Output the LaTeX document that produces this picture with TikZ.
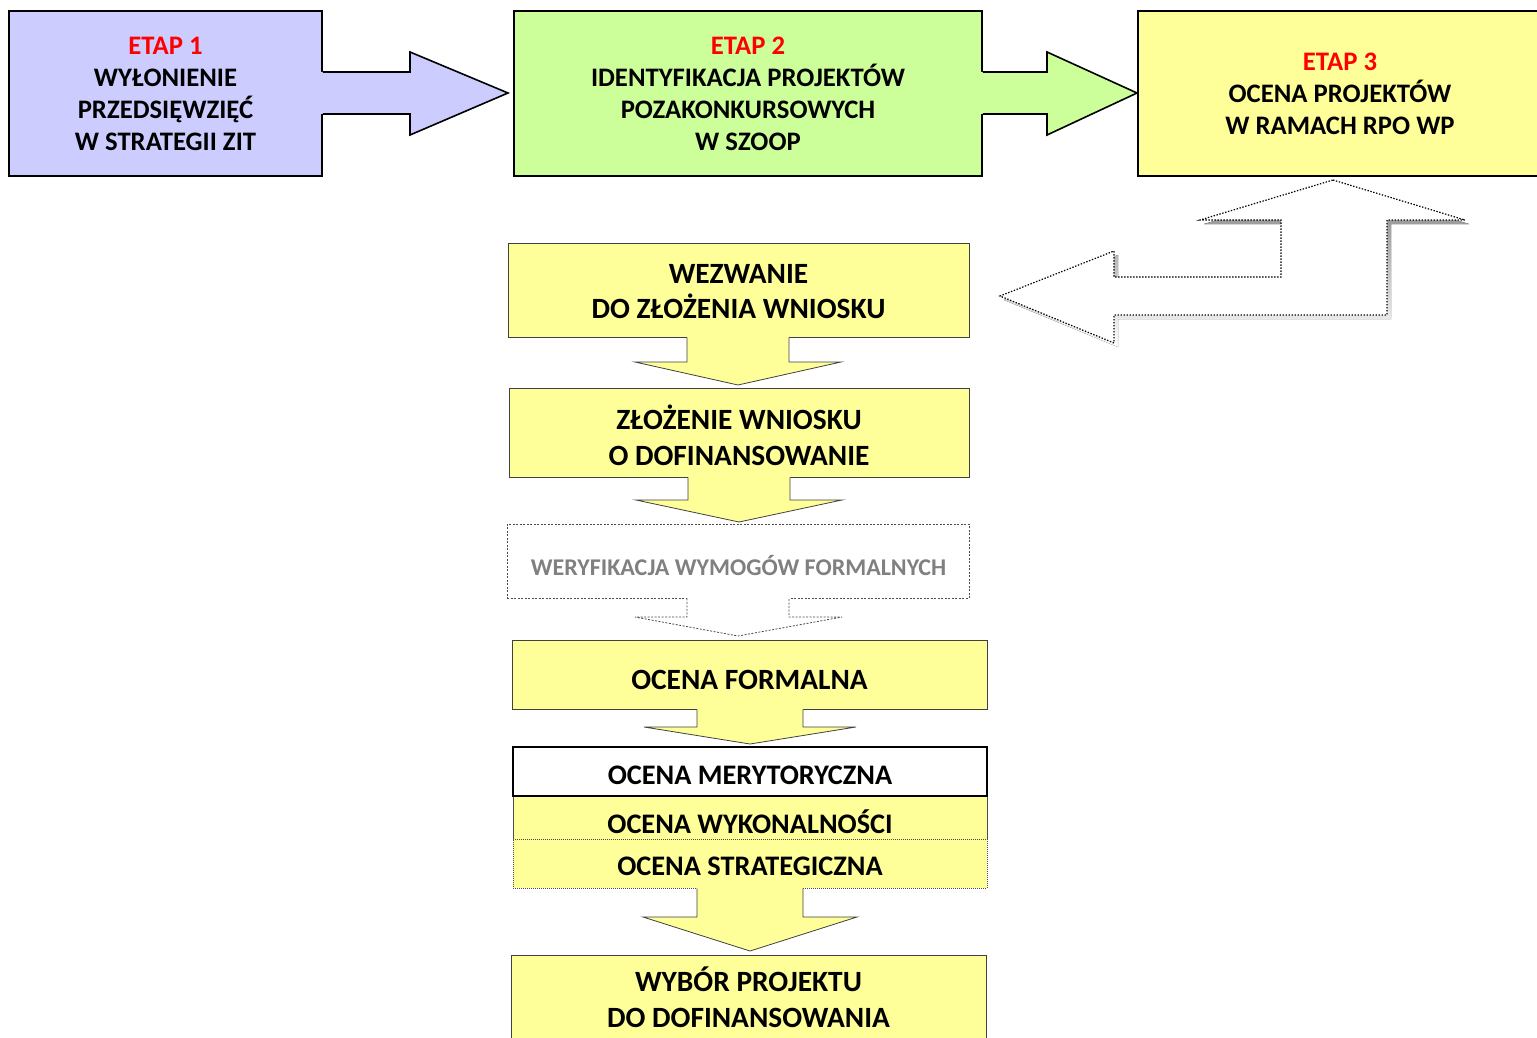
\documentclass[tikz,border=0pt]{standalone}
\usepackage{fontspec}
\setmainfont{Carlito}[BoldFont={Carlito Bold}]
\usetikzlibrary{calc}
\definecolor{lav}{RGB}{204,204,255}
\definecolor{grn}{RGB}{204,255,153}
\definecolor{ylw}{RGB}{255,255,153}
\definecolor{etapred}{RGB}{255,0,0}
\definecolor{shade}{RGB}{128,128,128}
\definecolor{wergray}{RGB}{128,128,128}
\begin{document}
\begin{tikzpicture}[x=1pt,y=-1pt,
  topbox/.style={draw=black, line width=1.6pt, inner sep=0pt, align=center,
    font=\fontsize{26.7}{32}\selectfont\bfseries},
  lowbox/.style={draw=black!75, line width=0.8pt, fill=ylw, inner sep=0pt, align=center,
    font=\fontsize{29.4}{35.8}\selectfont\bfseries},
  lowtext/.style={inner sep=0pt, align=center, font=\fontsize{29.4}{35.8}\selectfont\bfseries},
  midbox/.style={inner sep=0pt, align=center, font=\fontsize{28.3}{30}\selectfont\bfseries},
  arrowline/.style={draw=black!75, line width=0.8pt},
  topline/.style={draw=black, line width=1.6pt, line join=miter},
  dotline/.style={draw=black, line width=1.2pt, dash pattern=on 1.4pt off 1.6pt},
  dashline/.style={draw=black!70, line width=0.8pt, dash pattern=on 2pt off 1.5pt}]
\useasboundingbox (0,0) rectangle (1537,1038);

% ---------- top row ----------
\node[topbox, fill=lav, minimum width=313pt, minimum height=165pt] (e1) at (165.5,93.5)
  {\textcolor{etapred}{ETAP 1}\\WYŁONIENIE\\PRZEDSIĘWZIĘĆ\\W STRATEGII ZIT};
\node[topbox, fill=grn, minimum width=468pt, minimum height=165pt] (e2) at (748,93.5)
  {\textcolor{etapred}{ETAP 2}\\IDENTYFIKACJA PROJEKTÓW\\POZAKONKURSOWYCH\\W SZOOP};
\node[topbox, fill=ylw, minimum width=404pt, minimum height=165pt] (e3) at (1340,93.5)
  {\textcolor{etapred}{ETAP 3}\\OCENA PROJEKTÓW\\W RAMACH RPO WP};

% arrow 1 -> 2
\coordinate (t1a) at ($(e1.east |- 0,72)+(-2,0)$);
\coordinate (t1b) at ($(e1.east |- 0,114)+(-2,0)$);
\coordinate (t1tip) at (508,93);
\fill[lav] (t1a) -- (410,72) -- (410,52) -- (t1tip) -- (410,135) -- (410,114) -- (t1b) -- cycle;
\draw[topline] (e1.east |- 0,72) -- (410,72) -- (410,52) -- (t1tip) -- (410,135) -- (410,114) -- (e1.east |- 0,114);

% arrow 2 -> 3
\coordinate (t2a) at ($(e2.east |- 0,72)+(-2,0)$);
\coordinate (t2b) at ($(e2.east |- 0,114)+(-2,0)$);
\coordinate (t2tip) at (1137,93);
\fill[grn] (t2a) -- (1047,72) -- (1047,52) -- (t2tip) -- (1047,135) -- (1047,114) -- (t2b) -- cycle;
\draw[topline] (e2.east |- 0,72) -- (1047,72) -- (1047,52) -- (t2tip) -- (1047,135) -- (1047,114) -- (e2.east |- 0,114);

% ---------- U-turn arrow ----------
\coordinate (uup) at (1333,180);
\coordinate (uleft) at (1000,296);
\fill[shade, shift={(4,4)}] (1333,180) -- (1465,220) -- (1387,220) -- (1387,315) -- (1114,315) -- (1114,343) -- (1000,296) -- (1114,251) -- (1114,277) -- (1281,277) -- (1281,220) -- (1200,220) -- cycle;
\fill[white] (uup) -- (1465,220) -- (1387,220) -- (1387,315) -- (1114,315) -- (1114,343) -- (uleft) -- (1114,251) -- (1114,277) -- (1281,277) -- (1281,220) -- (1200,220) -- cycle;
\draw[dotline] (uup) -- (1465,220) -- (1387,220) -- (1387,315) -- (1114,315) -- (1114,343) -- (uleft) -- (1114,251) -- (1114,277) -- (1281,277) -- (1281,220) -- (1200,220) -- cycle;

% ---------- lower column ----------
\node[lowbox, minimum width=461pt, minimum height=94pt] (w1) at (738.5,290) {};
\node[lowtext] (w1t) at (738.5,291.5) {WEZWANIE\\DO ZŁOŻENIA WNIOSKU};
\node[lowbox, minimum width=460pt, minimum height=89pt] (w2) at (739,432.5) {};
\node[lowtext] (w2t) at (739,435.5) {ZŁOŻENIE WNIOSKU\\O DOFINANSOWANIE};
\node[draw=black!70, line width=0.8pt, dash pattern=on 2pt off 1.5pt, fill=white, inner sep=0pt,
  minimum width=462pt, minimum height=74pt] (wer) at (738,561) {};
\node[inner sep=0pt, text=wergray, font=\fontsize{24}{26}\selectfont\bfseries] (wert) at (738.5,565)
  {WERYFIKACJA WYMOGÓW FORMALNYCH};
\node[lowbox, minimum width=475pt, minimum height=69pt] (of) at (749.5,674.5) {};
\node[lowtext] (oft) at (749.5,680) {OCENA FORMALNA};

\node[draw=black, line width=1.4pt, fill=white, minimum width=474pt, minimum height=49pt, inner sep=0pt] (mer) at (750,771.5) {};
\node[draw=black!70, line width=0.8pt, fill=ylw, minimum width=474pt, minimum height=43pt, inner sep=0pt] (wyk) at (750,817.5) {};
\node[draw=black!70, line width=0.6pt, dash pattern=on 1pt off 1pt, fill=ylw, minimum width=474pt, minimum height=49pt, inner sep=0pt] (str) at (750,863.5) {};
\draw[draw=black, line width=1.4pt] (mer.south west) -- (mer.south east);
\node[midbox] (mert) at (750,775.5) {OCENA MERYTORYCZNA};
\node[midbox] (wykt) at (750,821.5) {OCENA WYKONALNOŚCI};
\node[midbox] (strt) at (750,866.5) {OCENA STRATEGICZNA};

\node[lowbox, minimum width=475pt, minimum height=90pt] (wyb) at (748.5,1000) {};
\node[lowtext] (wybt) at (748.5,997) {WYBÓR PROJEKTU\\DO DOFINANSOWANIA};

% down arrows
% A1
\fill[ylw] ($(w1.south -| 687,0)+(0,-1.5)$) -- (687,362) -- (635,362) -- (738,385) -- (841,362) -- (789,362) -- ($(w1.south -| 789,0)+(0,-1.5)$) -- cycle;
\draw[arrowline] (w1.south -| 687,0) -- (687,362) -- (635,362) -- (738,385) -- (841,362) -- (789,362) -- (w1.south -| 789,0);
% A2
\fill[ylw] ($(w2.south -| 688,0)+(0,-1.5)$) -- (688,500) -- (636,500) -- (739,522) -- (842,500) -- (790,500) -- ($(w2.south -| 790,0)+(0,-1.5)$) -- cycle;
\draw[arrowline] (w2.south -| 688,0) -- (688,500) -- (636,500) -- (739,522) -- (842,500) -- (790,500) -- (w2.south -| 790,0);
% A3 dashed
\fill[white] ($(wer.south -| 687,0)+(0,-1.5)$) -- (687,617) -- (635,617) -- (738,636) -- (842,617) -- (789,617) -- ($(wer.south -| 789,0)+(0,-1.5)$) -- cycle;
\draw[dashline] (wer.south -| 687,0) -- (687,617) -- (635,617) -- (738,636) -- (842,617) -- (789,617) -- (wer.south -| 789,0);
% A4
\fill[ylw] ($(of.south -| 697,0)+(0,-1.5)$) -- (697,727) -- (644,727) -- (750,744) -- (856,727) -- (803,727) -- ($(of.south -| 803,0)+(0,-1.5)$) -- cycle;
\draw[arrowline] (of.south -| 697,0) -- (697,727) -- (644,727) -- (750,744) -- (856,727) -- (803,727) -- (of.south -| 803,0);
% A5
\fill[ylw] ($(str.south -| 697,0)+(0,-1.5)$) -- (697,917) -- (643,917) -- (750,951) -- (857,917) -- (803,917) -- ($(str.south -| 803,0)+(0,-1.5)$) -- cycle;
\draw[arrowline] (str.south -| 697,0) -- (697,917) -- (643,917) -- (750,951) -- (857,917) -- (803,917) -- (str.south -| 803,0);
\end{tikzpicture}
\end{document}
